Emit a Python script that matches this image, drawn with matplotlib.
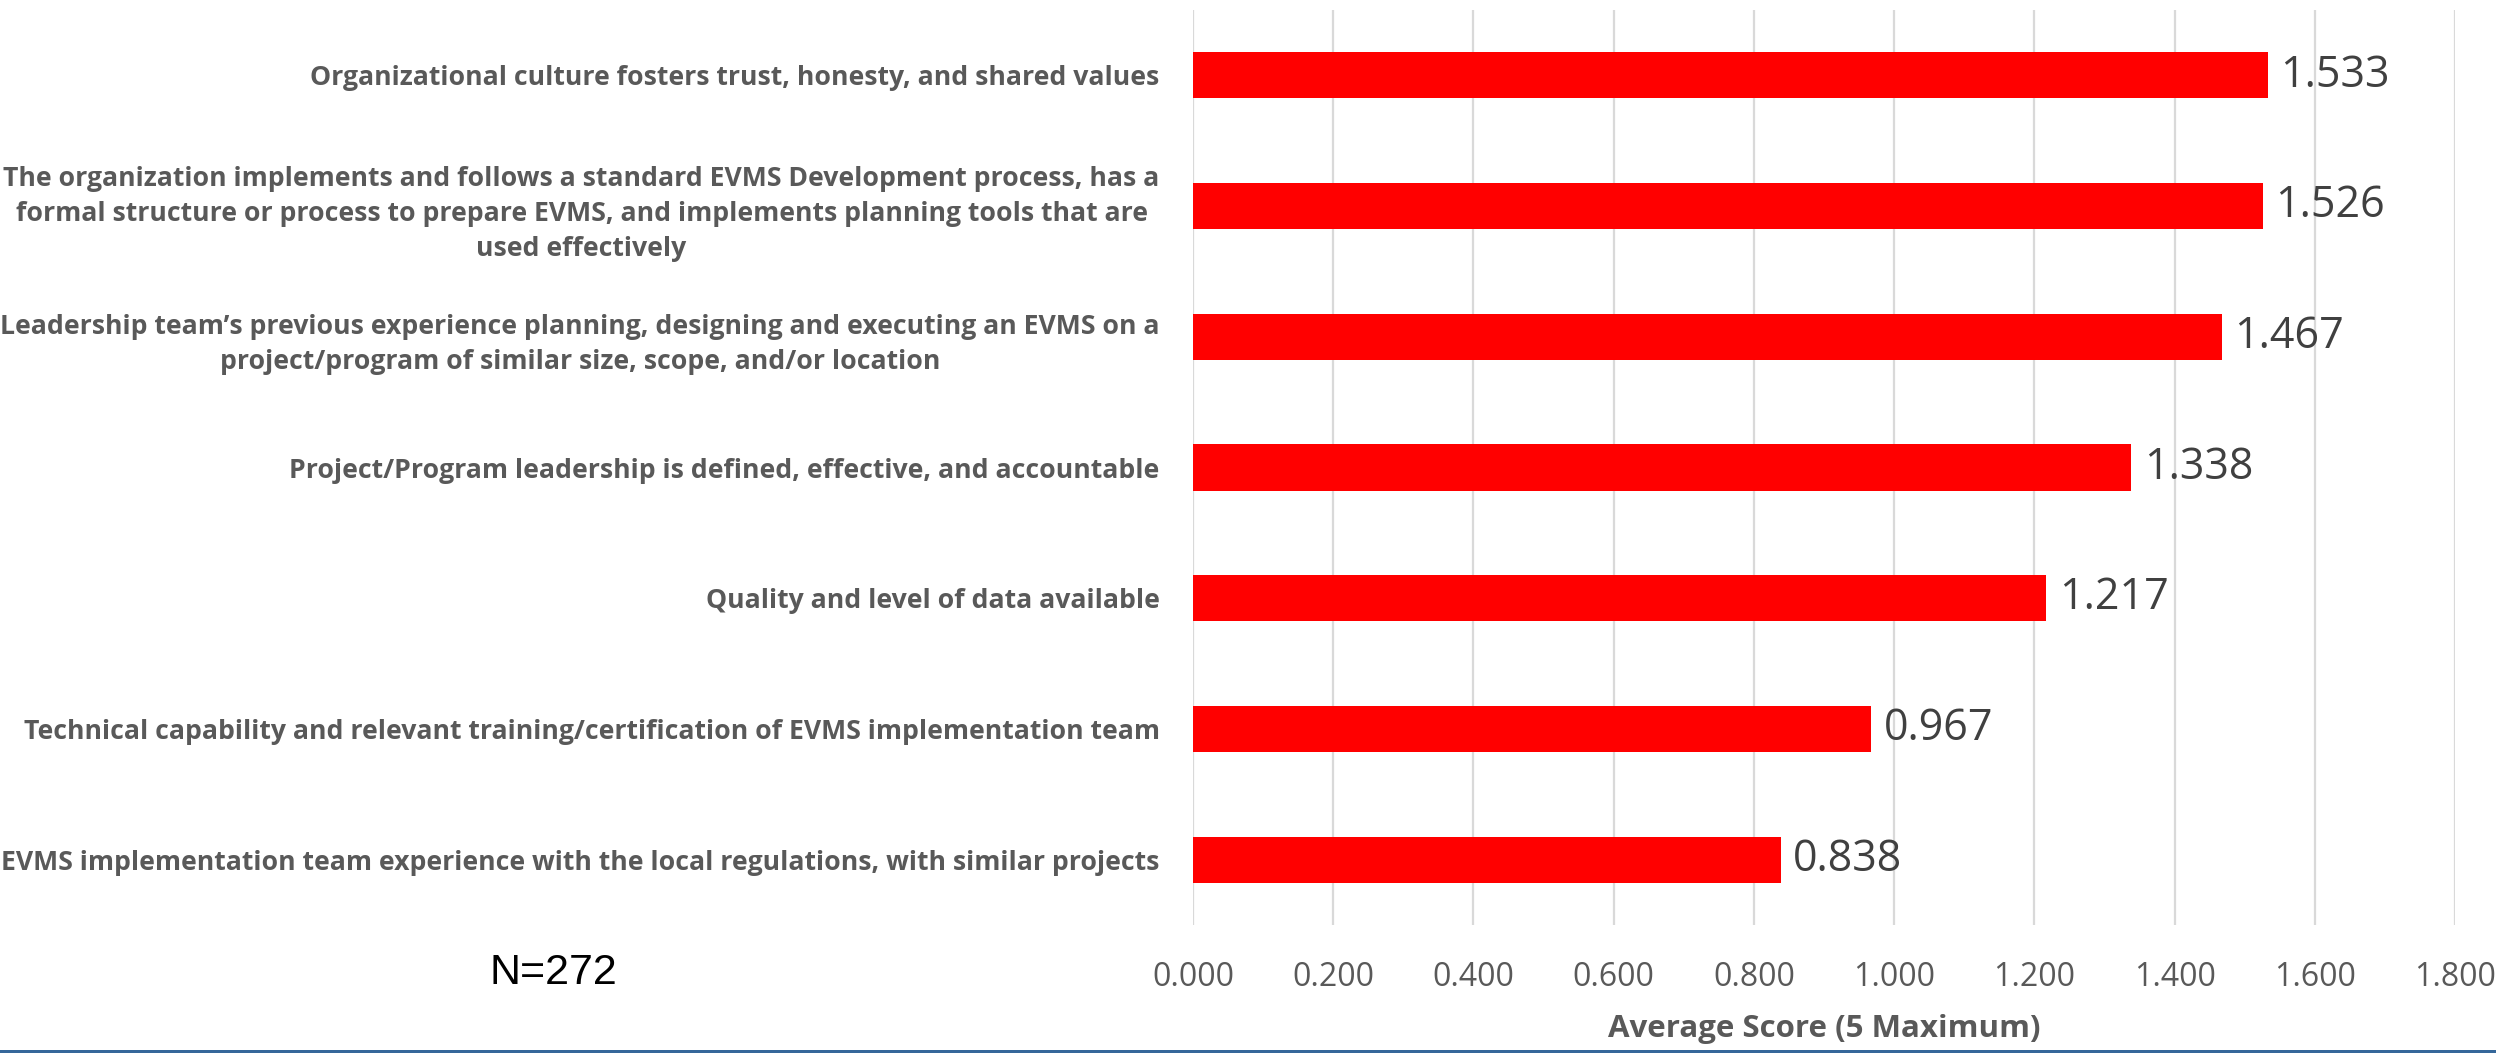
import matplotlib.pyplot as plt
import numpy as np

# survey factors, top to bottom as shown
factors = [
    "Organizational culture fosters trust, honesty, and shared values",
    "The organization implements and follows a standard EVMS Development process, has a\n"
    "formal structure or process to prepare EVMS, and implements planning tools that are\n"
    "used effectively",
    "Leadership team\u2019s previous experience planning, designing and executing an EVMS on a\n"
    "project/program of similar size, scope, and/or location",
    "Project/Program leadership is defined, effective, and accountable",
    "Quality and level of data available",
    "Technical capability and relevant training/certification of EVMS implementation team",
    "EVMS implementation team experience with the local regulations, with similar projects",
]
scores = [1.533, 1.526, 1.467, 1.338, 1.217, 0.967, 0.838]
xticks = [0.0, 0.2, 0.4, 0.6, 0.8, 1.0, 1.2, 1.4, 1.6, 1.8]
sample_note = "N=272"

plt.rcParams['font.family'] = ['Open Sans', 'DejaVu Sans']

fig = plt.figure(figsize=(24.96, 10.53), dpi=100)
ax = fig.add_axes([1193 / 2496, 1 - 925 / 1053, 1262 / 2496, 915 / 1053])

y = np.arange(len(scores))
ax.barh(y, scores, height=0.352, color='#FF0000', zorder=3)
ax.set_ylim(len(scores) - 0.5, -0.5)
ax.set_xlim(0, 1.8)

for yi, v in zip(y, scores):
    ax.text(v + 0.018, yi, f"{v:.3f}", va='center', ha='left',
            fontsize=31, color='#404040')

ax.set_xticks(xticks)
ax.set_xticklabels([f"{t:.3f}" for t in xticks], fontsize=23, color='#595959')
ax.set_yticks(y)
ax.set_yticklabels(factors, fontsize=19.2, fontweight='bold', color='#595959',
                   linespacing=1.45)
for lab in ax.get_yticklabels():
    lab.set_multialignment('center')

ax.tick_params(axis='x', length=0, pad=26)
ax.tick_params(axis='y', length=0, pad=24)
ax.grid(axis='x', color='#D9D9D9', linewidth=1.6, zorder=0)
for s in ax.spines.values():
    s.set_visible(False)

ax.set_xlabel("Average Score (5 Maximum)", fontsize=22.5, fontweight='bold',
              color='#595959', labelpad=14)

fig.text(553 / 2496, 1 - 973 / 1053, sample_note, ha='center', va='center',
         fontsize=31, family='Liberation Sans', color='black')

# blue rule along the bottom edge
fig.add_artist(plt.Rectangle((0, 0), 1, 3 / 1053, transform=fig.transFigure,
                             color='#35679A', lw=0))

fig.savefig('out.png', dpi=100)
